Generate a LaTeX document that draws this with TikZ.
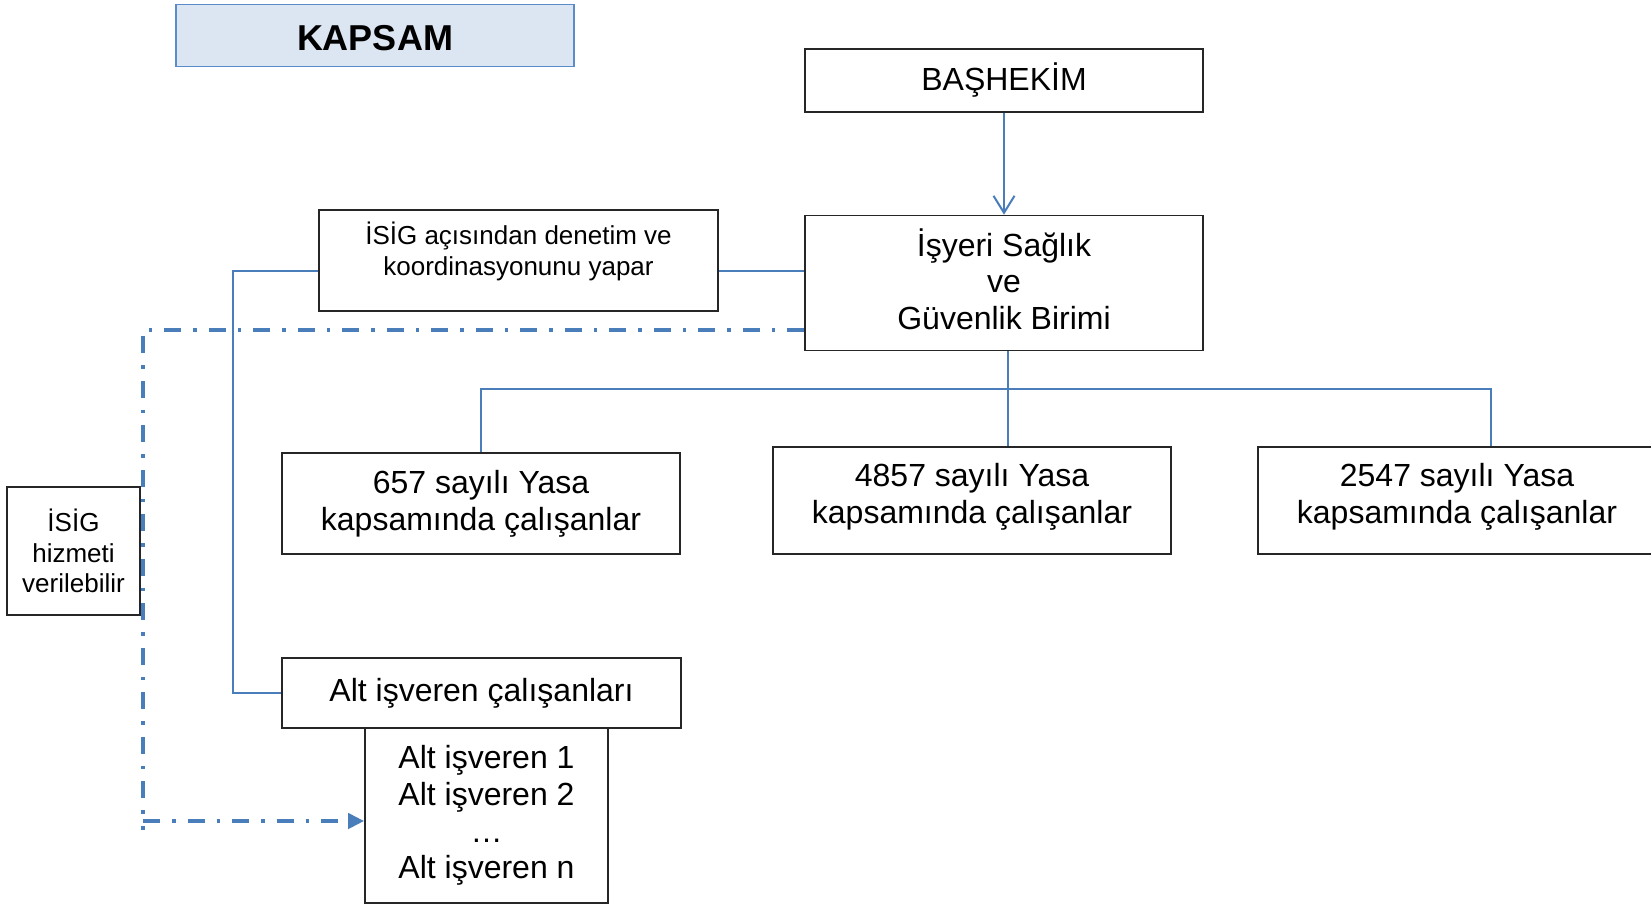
\documentclass[tikz,border=0pt]{standalone}
\usepackage{fontspec}
\setmainfont{Liberation Sans}
\usetikzlibrary{arrows.meta}
\definecolor{linkblue}{HTML}{4A7EBB}
\definecolor{headfill}{HTML}{DCE6F2}
\definecolor{headdraw}{HTML}{5B8BCB}
\newcommand{\bigtxt}{\fontsize{32}{36.8}\selectfont}
\newcommand{\smalltxt}{\fontsize{26}{30.5}\selectfont}

\begin{document}
\begin{tikzpicture}[x=1pt,y=-1pt]
  \tikzstyle{box}=[rectangle,draw=black!85,line width=1.6pt,inner sep=0pt,align=center,minimum width=398pt,font=\bigtxt]
  \tikzstyle{link}=[draw=linkblue,line width=2pt]
  \tikzstyle{dashlink}=[draw=linkblue,line width=4.5pt,dash pattern=on 17pt off 12pt on 3.5pt off 12pt]
  \useasboundingbox (0,0) rectangle (1651,906);

  \node [box,fill=headfill,draw=headdraw,line width=1.5pt,minimum height=62pt,text height=30pt,font=\fontsize{36}{40}\selectfont\bfseries] (kapsam) at (375,35.5) {KAPSAM};
  \node [box,minimum height=63pt] (bashekim) at (1004,80.5) {BAŞHEKİM};
  \node [box,minimum height=135pt,text depth=8pt] (birim) at (1004,283) {İşyeri Sağlık\\ve\\Güvenlik Birimi};
  \node [box,minimum width=399pt,minimum height=101pt,font=\smalltxt,text depth=24pt] (denetim) at (518.5,260.5) {İSİG açısından denetim ve\\koordinasyonunu yapar};
  \node [box,minimum width=133pt,minimum height=128pt,font=\smalltxt] (hizmet) at (73.5,551) {İSİG\\hizmeti\\verilebilir};
  \node [box,minimum height=101pt] (y657) at (481,503.5) {657 sayılı Yasa\\kapsamında çalışanlar};
  \node [box,minimum height=107pt,text depth=15pt] (y4857) at (972,500.5) {4857 sayılı Yasa\\kapsamında çalışanlar};
  \node [box,minimum height=107pt,text depth=15pt] (y2547) at (1457,500.5) {2547 sayılı Yasa\\kapsamında çalışanlar};
  \node [box,minimum width=399pt,minimum height=70pt] (altcal) at (481.5,693) {Alt işveren çalışanları};
  \node [box,minimum width=243pt,minimum height=175pt] (altlist) at (486.5,815.5) {Alt işveren 1\\Alt işveren 2\\…\\Alt işveren n};

  \coordinate (cl) at (0,271);
  \coordinate (bus) at (0,389);
  \coordinate (dl) at (0,330);
  \coordinate (dc) at (143,830);

  \draw[link,-{Straight Barb[length=17pt,width=21pt]}] (bashekim) -- (birim);
  \draw[link] (denetim.east |- cl) -- (birim.west |- cl);
  \draw[link] (denetim.west |- cl) -| ([xshift=-48pt]altcal.west) -- (altcal.west);
  \draw[link] ([xshift=4pt]birim.south) -- ([xshift=36pt]y4857.north);
  \draw[link] (y657.north) |- ([xshift=34pt]y2547.north |- bus) -- ([xshift=34pt]y2547.north);
  \draw[dashlink] (birim.west |- dl) -| (dc);
  \draw[dashlink,-{Triangle[length=16pt,width=15pt]}] ([yshift=-5.5pt]altlist.west -| dc) -- ([yshift=-5.5pt]altlist.west);
\end{tikzpicture}
\end{document}
